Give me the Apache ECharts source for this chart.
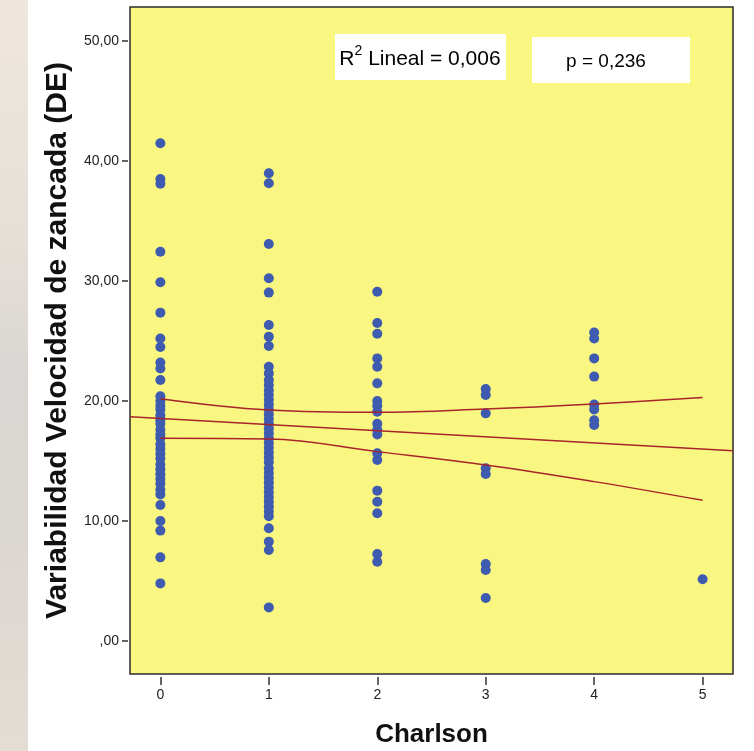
<!DOCTYPE html>
<html>
<head>
<meta charset="utf-8">
<script src="https://cdn.jsdelivr.net/npm/echarts@6/dist/echarts.min.js"></script>
<style>
  html, body { margin: 0; padding: 0; background: #fff; }
  #chart { width: 754px; height: 751px; }
</style>
</head>
<body>
<div id="chart"></div>
<script>
// values, one list per Charlson score
const charlson0 = [41.47, 38.5, 38.1, 32.44, 29.9, 27.36, 25.2, 24.5, 23.2, 22.7, 21.75,
  20.4, 20.0, 19.6, 19.3, 18.8, 18.4, 18.1, 17.6, 17.2, 16.9, 16.4, 16.0, 15.6, 15.2,
  14.7, 14.3, 13.9, 13.5, 13.1, 12.6, 12.2, 11.33, 10.0, 9.2, 6.97, 4.8]
const charlson1 = [38.97, 38.14, 33.08, 30.22, 29.03, 26.33, 25.36, 24.58, 22.86, 22.3, 21.75, 21.33,
  20.9, 20.5, 20.1, 19.7, 19.3, 18.9, 18.5, 18.1, 17.7, 17.3, 16.9, 16.5, 16.1, 15.7, 15.3,
  14.9, 14.4, 14.0, 13.6, 13.2, 12.8, 12.4, 12.0, 11.6, 11.2, 10.8, 10.4, 9.39, 8.28, 7.58, 2.8]
const charlson2 = [29.1, 26.5, 25.6, 23.55, 22.86, 21.47, 20.0, 19.6, 19.1, 18.1, 17.6, 17.2,
  15.64, 15.08, 12.53, 11.61, 10.64, 7.25, 6.61]
const charlson3 = [21.0, 20.5, 18.97, 14.39, 13.92, 6.42, 5.92, 3.58]
const charlson4 = [25.7, 25.2, 23.55, 22.03, 19.7, 19.3, 18.4, 18.0]
const charlson5 = [5.14]

// fit line across the plot and the 95% band, read at each score
const fitX = [-0.28, 5.28]
const fitY = [18.69, 15.86]
const bandX = [0, 1, 2, 3, 4, 5]
const bandUpper = [20.19, 19.25, 19.06, 19.33, 19.75, 20.28]
const bandLower = [16.89, 16.83, 15.78, 14.67, 13.28, 11.72]

const xTicks = [0, 1, 2, 3, 4, 5]
const yTicks = [0, 10, 20, 30, 40, 50]

const groups = [charlson0, charlson1, charlson2, charlson3, charlson4, charlson5]
let points = []
groups.forEach((vals, x) => {
  vals.forEach(v => points.push([x, v]))
})

const sans = "'Liberation Sans', Arial, sans-serif"
const lineColor = "#a8232a"

let chart = echarts.init(document.getElementById("chart"))
chart.setOption({
  animation: false,
  grid: {
    left: 130, top: 7, right: 21, bottom: 77,
    outerBoundsMode: "none",
    containLabel: false,
    show: true,
    backgroundColor: "#f9f781",
    borderColor: "#2b2b2b",
    borderWidth: 1.5,
  },
  xAxis: {
    type: "value",
    min: -0.28,
    max: 5.28,
    offset: 3,
    name: "Charlson",
    nameLocation: "middle",
    nameGap: 45,
    nameTextStyle: { fontFamily: sans, fontWeight: "bold", fontSize: 26, color: "#111" },
    axisLine: { show: false, onZero: false },
    axisTick: { show: true, length: 8, lineStyle: { color: "#333", width: 1.5 }, customValues: xTicks },
    axisLabel: { fontFamily: sans, fontSize: 14, color: "#222", margin: 11, customValues: xTicks },
    splitLine: { show: false },
  },
  yAxis: {
    type: "value",
    min: -2.75,
    max: 52.83,
    offset: 2,
    name: "Variabilidad Velocidad de zancada (DE)",
    nameLocation: "middle",
    nameGap: 52,
    nameTextStyle: { fontFamily: sans, fontWeight: "bold", fontSize: 30, color: "#111" },
    axisLine: { show: false, onZero: false },
    axisTick: { show: true, length: 6, lineStyle: { color: "#333", width: 1.5 }, customValues: yTicks },
    axisLabel: {
      fontFamily: sans, fontSize: 14, color: "#222", margin: 9,
      customValues: yTicks,
      formatter: v => (v === 0 ? ",00" : v.toFixed(2).replace(".", ",")),
    },
    splitLine: { show: false },
  },
  graphic: [
    {
      type: "rect",
      shape: { x: 0, y: 0, width: 28, height: 751 },
      style: {
        fill: {
          type: "linear", x: 0, y: 0, x2: 0, y2: 1,
          colorStops: [
            { offset: 0, color: "#efe7dd" },
            { offset: 0.3, color: "#e7e0d8" },
            { offset: 0.5, color: "#d9d6d3" },
            { offset: 0.75, color: "#dcd7d1" },
            { offset: 1, color: "#e4ddd5" },
          ],
        },
      },
      silent: true,
    },
    {
      type: "rect",
      shape: { x: 335, y: 34, width: 171, height: 46 },
      style: { fill: "#fff" },
      z: 10,
    },
    {
      type: "text",
      x: 420, y: 57,
      style: {
        text: "{a|R}{s|2}{a| Lineal = 0,006}",
        align: "center",
        verticalAlign: "middle",
        rich: {
          a: { fontFamily: sans, fontSize: 21, color: "#111", lineHeight: 26, verticalAlign: "bottom" },
          s: { fontFamily: sans, fontSize: 14, color: "#111", lineHeight: 14, verticalAlign: "top" },
        },
      },
      z: 11,
    },
    {
      type: "rect",
      shape: { x: 532, y: 37, width: 158, height: 46 },
      style: { fill: "#fff" },
      z: 10,
    },
    {
      type: "text",
      x: 606, y: 62,
      style: {
        text: "p = 0,236",
        align: "center",
        verticalAlign: "middle",
        fontFamily: sans, fontSize: 19, color: "#111",
      },
      z: 11,
    },
  ],
  series: [
    {
      type: "scatter",
      data: points,
      symbolSize: 10,
      itemStyle: { color: "#3e5bb0", opacity: 1 },
      z: 2,
    },
    {
      type: "line",
      data: fitX.map((x, i) => [x, fitY[i]]),
      symbol: "none",
      lineStyle: { color: lineColor, width: 1.5 },
      z: 3,
    },
    {
      type: "line",
      data: bandX.map((x, i) => [x, bandUpper[i]]),
      symbol: "none",
      smooth: 0.4,
      lineStyle: { color: lineColor, width: 1.5 },
      z: 3,
    },
    {
      type: "line",
      data: bandX.map((x, i) => [x, bandLower[i]]),
      symbol: "none",
      smooth: 0.4,
      lineStyle: { color: lineColor, width: 1.5 },
      z: 3,
    },
  ],
})
</script>
</body>
</html>
